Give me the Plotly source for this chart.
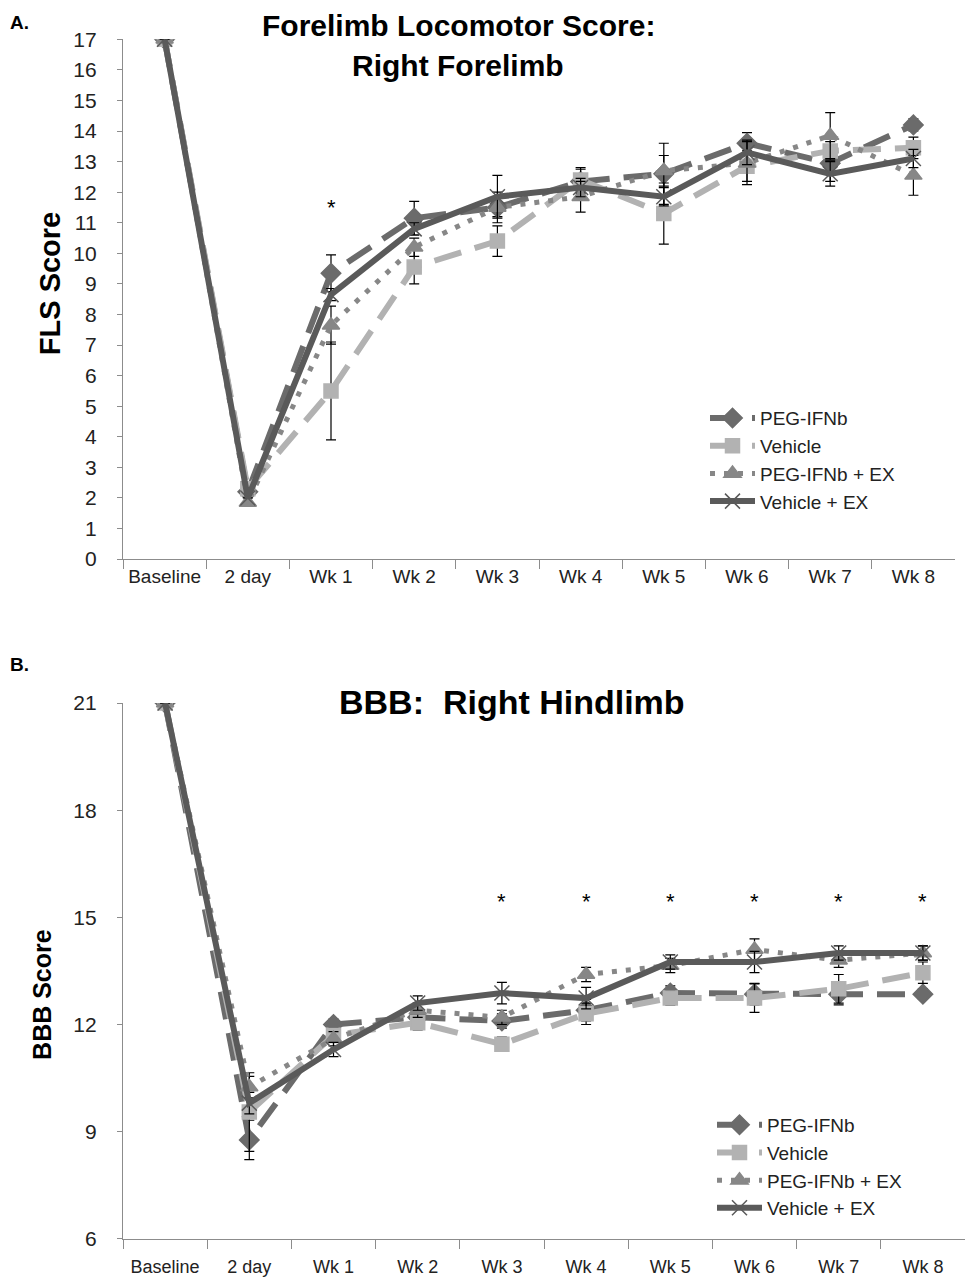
import plotly.graph_objects as go

categories = ["Baseline", "2 day", "Wk 1", "Wk 2", "Wk 3", "Wk 4", "Wk 5", "Wk 6", "Wk 7", "Wk 8"]
series_names = ["PEG-IFNb", "Vehicle", "PEG-IFNb + EX", "Vehicle + EX"]

# Panel A: FLS score
fls_peg = [17, 2.2, 9.35, 11.15, 11.5, 12.35, 12.6, 13.6, 12.95, 14.2]
fls_veh = [17, 2.3, 5.5, 9.55, 10.4, 12.4, 11.3, 12.85, 13.35, 13.45]
fls_pegex = [17, 1.85, 7.65, 10.2, 11.5, 11.85, 12.7, 12.95, 13.85, 12.55]
fls_vehex = [17, 2.0, 8.65, 10.8, 11.85, 12.15, 11.85, 13.3, 12.6, 13.1]
fls_peg_err = [0, 0, 0.6, 0.55, 0.3, 0.4, 1.0, 0.35, 0.6, 0.2]
fls_veh_err = [0, 0, 1.6, 0.55, 0.5, 0.4, 1.0, 0.5, 0.3, 0.35]
fls_pegex_err = [0, 0, 0.62, 0.3, 0.5, 0.5, 0.5, 0.7, 0.75, 0.65]
fls_vehex_err = [0, 0, 0.2, 0.2, 0.7, 0.3, 0.3, 0.4, 0.4, 0.3]

# Panel B: BBB score
bbb_peg = [21, 8.77, 12.0, 12.2, 12.1, 12.4, 12.88, 12.85, 12.85, 12.85]
bbb_veh = [21, 9.55, 11.7, 12.05, 11.45, 12.3, 12.74, 12.74, 13.0, 13.45]
bbb_pegex = [21, 10.25, 11.6, 12.4, 12.2, 13.4, 13.65, 14.1, 13.8, 14.0]
bbb_vehex = [21, 9.8, 11.3, 12.6, 12.88, 12.74, 13.75, 13.75, 14.0, 14.0]
bbb_peg_err = [0, 0.55, 0.15, 0.2, 0.2, 0.3, 0.2, 0.3, 0.3, 0.15]
bbb_veh_err = [0, 1.1, 0.2, 0.2, 0.2, 0.3, 0.2, 0.4, 0.4, 0.3]
bbb_pegex_err = [0, 0.3, 0.2, 0.2, 0.2, 0.2, 0.2, 0.3, 0.2, 0.2]
bbb_vehex_err = [0, 0.3, 0.2, 0.2, 0.3, 0.3, 0.2, 0.3, 0.2, 0.2]

fls_star_cats = ["Wk 1"]
fls_star_y = [11.5]
bbb_star_cats = ["Wk 3", "Wk 4", "Wk 5", "Wk 6", "Wk 7", "Wk 8"]
bbb_star_y = [15.45] * 6

styles = [
    dict(color="#6b6b6b", dash="28px,14px", symbol="diamond", msize=15, width=6),
    dict(color="#b2b2b2", dash="28px,14px", symbol="square", msize=14, width=6),
    dict(color="#878787", dash="5px,9px", symbol="triangle-up", msize=15, width=5),
    dict(color="#5a5a5a", dash="solid", symbol="x-thin-open", msize=15, width=6),
]

FONT = "Liberation Sans, Arial, sans-serif"
fig = go.Figure()

def add_panel(ydata, errs, xa, ya, leg):
    for name, y, e, st in zip(series_names, ydata, errs, styles):
        fig.add_trace(go.Scatter(
            x=categories, y=y, name=name, mode="lines+markers",
            xaxis=xa, yaxis=ya, legend=leg,
            line=dict(color=st["color"], width=st["width"], dash=st["dash"]),
            marker=dict(symbol=st["symbol"], size=st["msize"], color=st["color"],
                        line=dict(color=st["color"], width=1.5)),
            error_y=dict(type="data", array=e, visible=True, color="black",
                         thickness=1.2, width=5),
        ))

add_panel([fls_peg, fls_veh, fls_pegex, fls_vehex],
          [fls_peg_err, fls_veh_err, fls_pegex_err, fls_vehex_err], "x", "y", "legend")
add_panel([bbb_peg, bbb_veh, bbb_pegex, bbb_vehex],
          [bbb_peg_err, bbb_veh_err, bbb_pegex_err, bbb_vehex_err], "x2", "y2", "legend2")

annotations = []
for c, v in zip(fls_star_cats, fls_star_y):
    annotations.append(dict(x=c, y=v, xref="x", yref="y", text="*", showarrow=False,
                            font=dict(size=22, color="black", family=FONT)))
for c, v in zip(bbb_star_cats, bbb_star_y):
    annotations.append(dict(x=c, y=v, xref="x2", yref="y2", text="*", showarrow=False,
                            font=dict(size=22, color="black", family=FONT)))

W, H = 965, 1287

def Y(p):
    # vertical pixel target -> paper fraction (calibrated for the capture)
    s = (p - 11.7) / 0.9825
    return 1 - s / H

def txt(x, y, text, size, angle=0, xanchor="center"):
    return dict(x=x / W, y=Y(y), xref="paper", yref="paper", showarrow=False,
                xanchor=xanchor, yanchor="middle", textangle=angle, text=text,
                font=dict(size=size, color="black", family=FONT))

annotations += [
    txt(458, 25, "<b>Forelimb Locomotor Score:</b>", 30),
    txt(458, 65, "<b>Right Forelimb</b>", 30),
    txt(512, 702, "<b>BBB:  Right Hindlimb</b>", 34),
    txt(8, 22, "<b>A.</b>", 19, xanchor="left"),
    txt(8, 664, "<b>B.</b>", 19, xanchor="left"),
    txt(50, 284, "<b>FLS Score</b>", 29, angle=-90),
    txt(42, 995, "<b>BBB Score</b>", 25, angle=-90),
]

axis_common = dict(showgrid=False, zeroline=False, showline=True, linecolor="#8c8c8c",
                   linewidth=1.3, ticks="outside", tickcolor="#8c8c8c", mirror=False)

xfont = dict(family=FONT, size=19, color="#222")
yfont = dict(family=FONT, size=21, color="#222")
legfont = dict(family=FONT, size=19, color="#222")

fig.update_layout(
    width=W, height=H, margin=dict(l=0, r=0, t=0, b=0),
    paper_bgcolor="white", plot_bgcolor="white",
    xaxis=dict(axis_common, domain=[123 / W, 955 / W], anchor="y", type="category",
               tickson="boundaries", ticklen=9, range=[-0.5, 9.5], tickangle=0,
               tickfont=xfont),
    yaxis=dict(axis_common, domain=[Y(559), Y(39)], anchor="x", range=[0, 17],
               dtick=1, ticklen=5, tickfont=yfont, ticklabelstandoff=16),
    xaxis2=dict(axis_common, domain=[123 / W, 1.0], anchor="y2", type="category",
                tickson="boundaries", ticklen=9, range=[-0.5, 9.5], tickangle=0,
                tickfont=dict(family=FONT, size=18, color="#222"), ticklabelstandoff=11),
    yaxis2=dict(axis_common, domain=[Y(1239), Y(703)], anchor="x2", range=[6, 21],
                dtick=3, ticklen=5, tickfont=yfont, ticklabelstandoff=16),
    legend=dict(x=705 / W, y=Y(399), xanchor="left", yanchor="top",
                bgcolor="rgba(0,0,0,0)", font=legfont, itemwidth=45, tracegroupgap=0),
    legend2=dict(x=712 / W, y=Y(1106), xanchor="left", yanchor="top",
                 bgcolor="rgba(0,0,0,0)", font=legfont, itemwidth=45, tracegroupgap=0),
    annotations=annotations,
    showlegend=True,
)

post = (
    "var gd=document.getElementById('{plot_id}');"
    "gd.style.position='absolute';gd.style.top='0px';gd.style.left='0px';"
    "document.body.style.margin='0';document.body.style.overflow='hidden';"
    "document.body.style.height='1287px';"
    "document.documentElement.style.height='1287px';"
    "document.documentElement.style.overflow='hidden';"
)
fig.write_html("out.html", config={"displayModeBar": False}, post_script=post)
